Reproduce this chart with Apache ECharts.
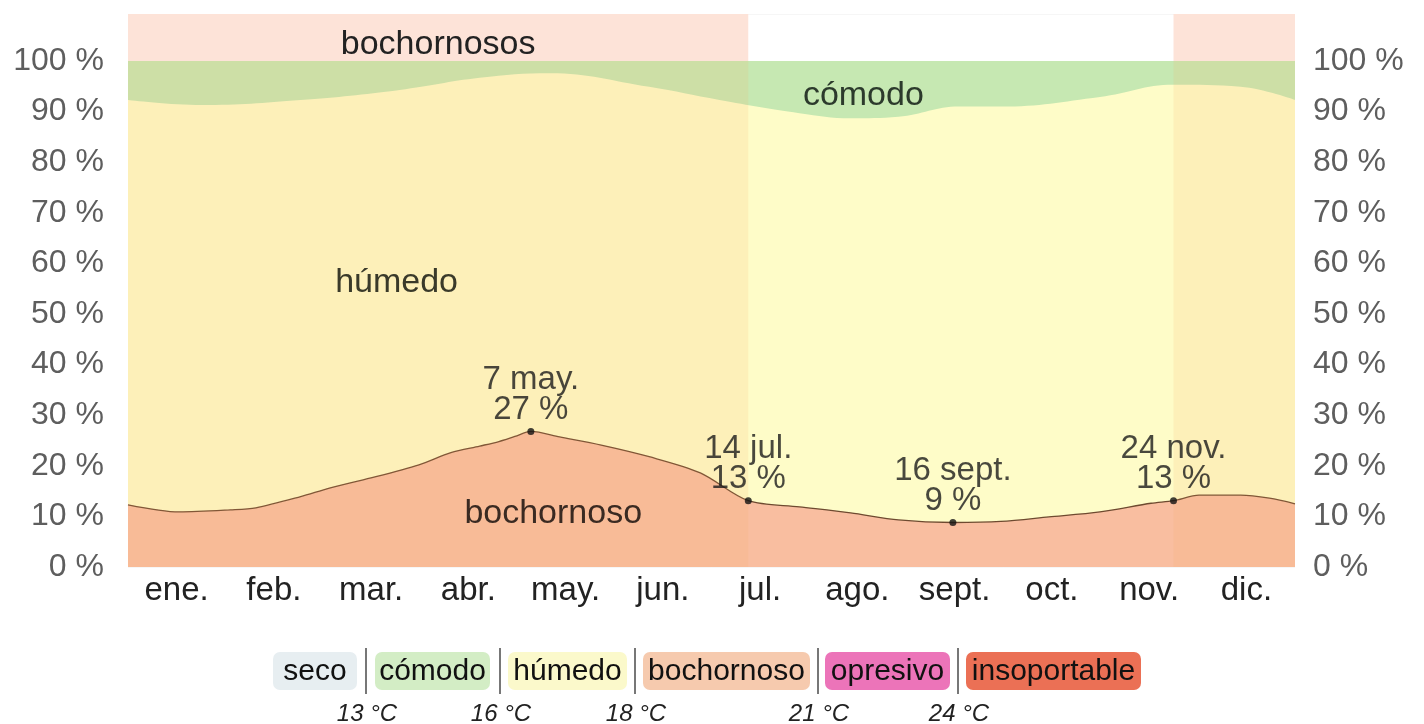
<!DOCTYPE html>
<html>
<head>
<meta charset="utf-8">
<script src="https://cdn.jsdelivr.net/npm/echarts@6/dist/echarts.min.js"></script>
<style>
  html, body { margin: 0; padding: 0; background: #fff; }
  #chart { width: 1424px; height: 724px; }
</style>
</head>
<body>
<div id="chart"></div>
<script>
// month names (axis)
const months = ['ene.', 'feb.', 'mar.', 'abr.', 'may.', 'jun.', 'jul.', 'ago.', 'sept.', 'oct.', 'nov.', 'dic.']

// bochornoso share (% of hours), by day of year
const dayBochornoso = [0, 16, 32, 40, 54, 63, 76, 91, 101, 110, 116, 121, 126, 135, 148, 163, 179, 194, 210, 226, 241, 258, 273, 288, 304, 320, 327, 335, 348, 357, 365]
const pctBochornoso = [12.3, 10.9, 11.3, 11.7, 13.9, 15.6, 17.6, 20.2, 22.6, 23.9, 24.8, 25.8, 26.8, 25.7, 24.1, 21.8, 18.6, 13.1, 11.9, 10.7, 9.3, 8.8, 9.0, 9.9, 10.9, 12.6, 13.1, 14.2, 14.2, 13.6, 12.5]

// top of húmedo band (bochornoso + húmedo), by day of year
const dayHumidTop = [0, 23, 54, 85, 110, 132, 163, 185, 210, 226, 241, 260, 273, 304, 327, 348, 365]
const pctHumidTop = [92.3, 91.3, 92.3, 94.3, 96.7, 97.6, 94.9, 92.3, 89.7, 88.7, 89.0, 91.0, 91.0, 92.9, 95.3, 94.9, 92.3]

// labelled points
const markDays = [126, 194, 258, 327]
const markNames = ['7 may.', '14 jul.', '16 sept.', '24 nov.']

// muggier season (day ranges)
const seasonRanges = [[0, 194], [327, 365]]

// y ticks
const yTicks = [0, 10, 20, 30, 40, 50, 60, 70, 80, 90, 100]

// legend
const legendNames = ['seco', 'cómodo', 'húmedo', 'bochornoso', 'opresivo', 'insoportable']
const legendColors = ['#e7eef1', '#d3edc5', '#fbf9cb', '#f6caae', '#ec74b9', '#eb7055']
const legendTemps = ['13 °C', '16 °C', '18 °C', '21 °C', '24 °C']

const chart = echarts.init(document.getElementById('chart'))

const TOP = 109.3
const FONT = 'Liberation Sans, Arial, Helvetica, sans-serif'

function pairs(days, vals) {
  return days.map((d, i) => [d, vals[i]])
}

const markData = markDays.map(d => {
  const v = pctBochornoso[dayBochornoso.indexOf(d)]
  return [d, v]
})

// legend graphics
const boxX = [273, 375, 508, 643, 825, 966]
const boxW = [84, 115, 119, 167, 125, 175]
const sepX = [366, 500, 635, 818, 958]
const graphics = []
legendNames.forEach((name, i) => {
  graphics.push({
    type: 'rect',
    shape: { x: boxX[i], y: 652, width: boxW[i], height: 38, r: 7 },
    style: { fill: legendColors[i] },
    silent: true
  })
  graphics.push({
    type: 'text',
    x: boxX[i] + boxW[i] / 2,
    y: 672,
    style: { text: name, fill: '#111', font: '30px ' + FONT, align: 'center', verticalAlign: 'middle' },
    silent: true
  })
})
sepX.forEach((x, i) => {
  graphics.push({
    type: 'line',
    shape: { x1: x, y1: 648, x2: x, y2: 694 },
    style: { stroke: '#777', lineWidth: 2 },
    silent: true
  })
  graphics.push({
    type: 'text',
    x: x + 1,
    y: 714,
    style: { text: legendTemps[i], fill: '#222', font: 'italic 24px ' + FONT, align: 'center', verticalAlign: 'middle' },
    silent: true
  })
})

const option = {
  animation: false,
  backgroundColor: '#fff',
  textStyle: { fontFamily: FONT },
  grid: { left: 128, right: 129, top: 14, bottom: 157 },
  xAxis: [
    {
      type: 'value',
      min: 0,
      max: 365,
      show: false
    },
    {
      type: 'category',
      data: months,
      boundaryGap: true,
      position: 'bottom',
      axisLine: { show: false },
      axisTick: { show: false },
      axisLabel: { color: '#222', fontSize: 33, margin: 7 }
    }
  ],
  yAxis: [
    {
      type: 'value',
      min: 0,
      max: TOP,
      interval: 10,
      position: 'left',
      axisLine: { show: false },
      axisTick: { show: false },
      splitLine: { show: true, lineStyle: { color: 'rgba(0,0,0,0.035)', width: 1 } },
      axisLabel: {
        color: '#5e5e5e',
        fontSize: 32,
        margin: 24,
        showMaxLabel: false,
        formatter: v => (yTicks.indexOf(v) >= 0 ? v + ' %' : '')
      }
    },
    {
      type: 'value',
      min: 0,
      max: TOP,
      interval: 10,
      position: 'right',
      axisLine: { show: false },
      axisTick: { show: false },
      splitLine: { show: false },
      axisLabel: {
        color: '#5e5e5e',
        fontSize: 32,
        margin: 18,
        showMaxLabel: false,
        formatter: v => (yTicks.indexOf(v) >= 0 ? v + ' %' : '')
      }
    }
  ],
  graphic: graphics,
  series: [
    {
      name: 'cómodo',
      type: 'line',
      z: 1,
      silent: true,
      symbol: 'none',
      lineStyle: { width: 0 },
      areaStyle: { color: '#c6e8b2', opacity: 1 },
      data: [[0, 100], [365, 100]],
      markPoint: {
        symbol: 'circle',
        symbolSize: 0,
        label: { show: true, color: '#2c3a2c', fontSize: 34, formatter: 'cómodo' },
        data: [{ coord: [230, 93.2] }]
      }
    },
    {
      name: 'húmedo',
      type: 'line',
      z: 2,
      silent: true,
      smooth: 0.4,
      symbol: 'none',
      lineStyle: { width: 0 },
      areaStyle: { color: '#fefcc8', opacity: 1 },
      data: pairs(dayHumidTop, pctHumidTop),
      markPoint: {
        symbol: 'circle',
        symbolSize: 0,
        label: { show: true, color: '#3a3a2a', fontSize: 34, formatter: 'húmedo' },
        data: [{ coord: [84, 56.2] }]
      }
    },
    {
      name: 'bochornoso',
      type: 'line',
      z: 3,
      silent: true,
      smooth: 0.3,
      symbol: 'none',
      lineStyle: { width: 1.3, color: '#6e4a30' },
      areaStyle: { color: '#f9bea0', opacity: 1 },
      data: pairs(dayBochornoso, pctBochornoso),
      markPoint: {
        symbol: 'circle',
        symbolSize: 0,
        label: { show: true, color: '#3a2a22', fontSize: 34, formatter: 'bochornoso' },
        data: [{ coord: [133, 10.5] }]
      }
    },
    {
      name: 'temporada',
      type: 'line',
      z: 4,
      silent: true,
      symbol: 'none',
      data: [],
      markArea: {
        silent: true,
        z: 5,
        label: { show: false },
        data: seasonRanges.map(r => [
          { xAxis: r[0], yAxis: 0, itemStyle: { color: 'rgba(250,170,100,0.14)' } },
          { xAxis: r[1], yAxis: 100 }
        ]).concat(seasonRanges.map(r => [
          { xAxis: r[0], yAxis: 100, itemStyle: { color: '#fde3d8' } },
          { xAxis: r[1], yAxis: TOP }
        ]))
      },
      markPoint: {
        symbol: 'circle',
        symbolSize: 0,
        z: 6,
        label: { show: true, color: '#222', fontSize: 34, formatter: 'bochornosos' },
        data: [{ coord: [97, 103.3] }]
      }
    },
    {
      name: 'puntos',
      type: 'scatter',
      z: 7,
      silent: true,
      symbol: 'circle',
      symbolSize: 7,
      itemStyle: { color: '#111' },
      data: markData,
      label: {
        show: true,
        position: 'top',
        distance: 3,
        color: '#1a1a1a',
        fontSize: 33,
        lineHeight: 30,
        formatter: p => markNames[p.dataIndex] + '\n' + Math.round(p.value[1]) + ' %'
      }
    }
  ]
}

chart.setOption(option)
</script>
</body>
</html>
